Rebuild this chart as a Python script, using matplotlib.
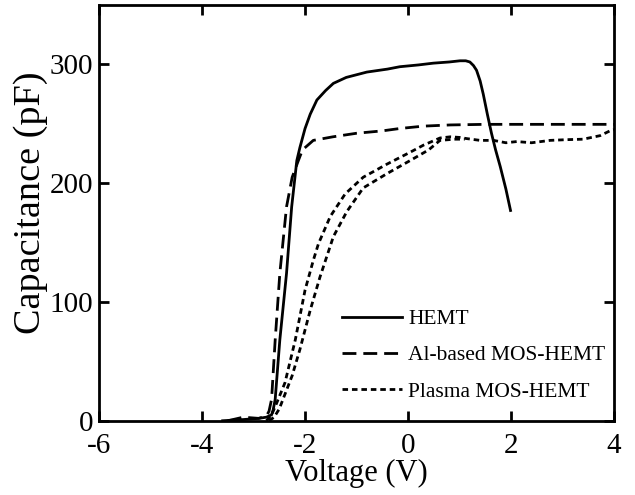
"""
C-V curves of the HEMT and the two MOS-HEMT variants.
"""

import matplotlib
matplotlib.use("Agg")
import matplotlib.pyplot as plt

plt.rcParams["font.family"] = ["Liberation Serif", "DejaVu Serif"]
plt.rcParams["axes.unicode_minus"] = False

# --- data (voltage in V, capacitance in pF) ---

hemt_v = [-3.6, -3.2, -2.9, -2.75, -2.65, -2.62, -2.58, -2.49, -2.36, -2.26,
          -2.16, -2.1, -2.0, -1.9, -1.77, -1.6, -1.45, -1.2,
          -0.8, -0.4, -0.16, 0.2, 0.49, 0.8, 1.01, 1.12, 1.2, 1.27, 1.33, 1.4,
          1.46, 1.54, 1.62, 1.7, 1.79, 1.9, 1.99]
hemt_c = [0, 1, 2, 3, 5, 9, 18, 68, 124, 180,
          219, 230, 246, 258, 270, 278, 284, 289,
          293.5, 296, 298, 299.5, 301, 302, 303, 303, 302, 299, 295, 286,
          275, 258, 242, 228, 214, 195, 177]

al_v = [-3.5, -3.2, -2.9, -2.75, -2.7, -2.65, -2.58, -2.49, -2.36, -2.25,
        -2.13, -2.05, -1.84, -1.46, -1.0, -0.5, -0.16, 0.3,
        0.82, 1.5, 2.5, 3.5, 4.0]
al_c = [0, 3, 2, 4, 8, 18, 68, 124, 180, 205,
        219, 228, 236, 239, 242, 244, 246, 248,
        249, 249.5, 249.5, 249.5, 249.5]

# plasma device: forward and reverse sweep
plasma_fwd_v = [-2.75, -2.65, -2.55, -2.39, -2.19, -2.0, -1.84, -1.74, -1.51,
                -1.22, -0.87, -0.41, 0.04, 0.3, 0.62, 0.82, 1.0, 1.14, 1.4,
                1.66, 1.9, 2.11, 2.4, 2.76, 3.08, 3.4, 3.73, 3.92, 4.0]
plasma_fwd_c = [0, 5, 15, 32, 68, 110, 135, 149, 172,
                191, 205, 216, 226, 232, 238, 239, 238.5, 237.5, 236,
                236, 234, 235, 234, 236, 236.6, 237, 240, 244, 245]
plasma_rev_v = [-2.7, -2.6, -2.5, -2.42, -2.25, -2.1, -1.9, -1.71, -1.45,
                -1.19, -0.87, -0.41, 0.04, 0.4, 0.62, 0.9, 1.1]
plasma_rev_c = [0, 3, 10, 19, 38, 60, 93, 121, 155,
                176, 196, 208, 219, 228, 236, 237, 237]

x_ticks = [-6, -4, -2, 0, 2, 4]
y_ticks = [0, 100, 200, 300]

# --- plot ---

fig = plt.figure(figsize=(6.35, 4.95), dpi=100)
ax = fig.add_axes([0.156, 0.15, 0.811, 0.84])

lw = 2.0
ax.plot(hemt_v, hemt_c, color="black", lw=lw, label="HEMT")
ax.plot(al_v, al_c, color="black", lw=lw, linestyle=(0, (5, 2.5)),
        label="Al-based MOS-HEMT")
ax.plot(plasma_fwd_v, plasma_fwd_c, color="black", lw=lw,
        linestyle=(0, (2, 1.4)), label="Plasma MOS-HEMT")
ax.plot(plasma_rev_v, plasma_rev_c, color="black", lw=lw,
        linestyle=(0, (2, 1.4)))

ax.set_xlim(-6, 4)
ax.set_ylim(0, 350)
ax.set_xticks(x_ticks)
ax.set_yticks(y_ticks)
ax.tick_params(direction="in", length=7, width=2, labelsize=21,
               top=True, right=True)
ax.tick_params(axis="x", pad=9)
ax.tick_params(axis="y", pad=4)
for sp in ax.spines.values():
    sp.set_linewidth(2)

ax.set_xlabel("Voltage (V)", fontsize=22, labelpad=0)
ax.set_ylabel("Capacitance (pF)", fontsize=27.5)
ax.yaxis.set_label_coords(-0.1, 0.525)

ax.legend(loc="lower left", bbox_to_anchor=(0.45, 0.02), frameon=False,
          fontsize=15.5, handlelength=2.8, handletextpad=0.3,
          labelspacing=0.75, borderpad=0)

fig.savefig("out.png", dpi=100)
